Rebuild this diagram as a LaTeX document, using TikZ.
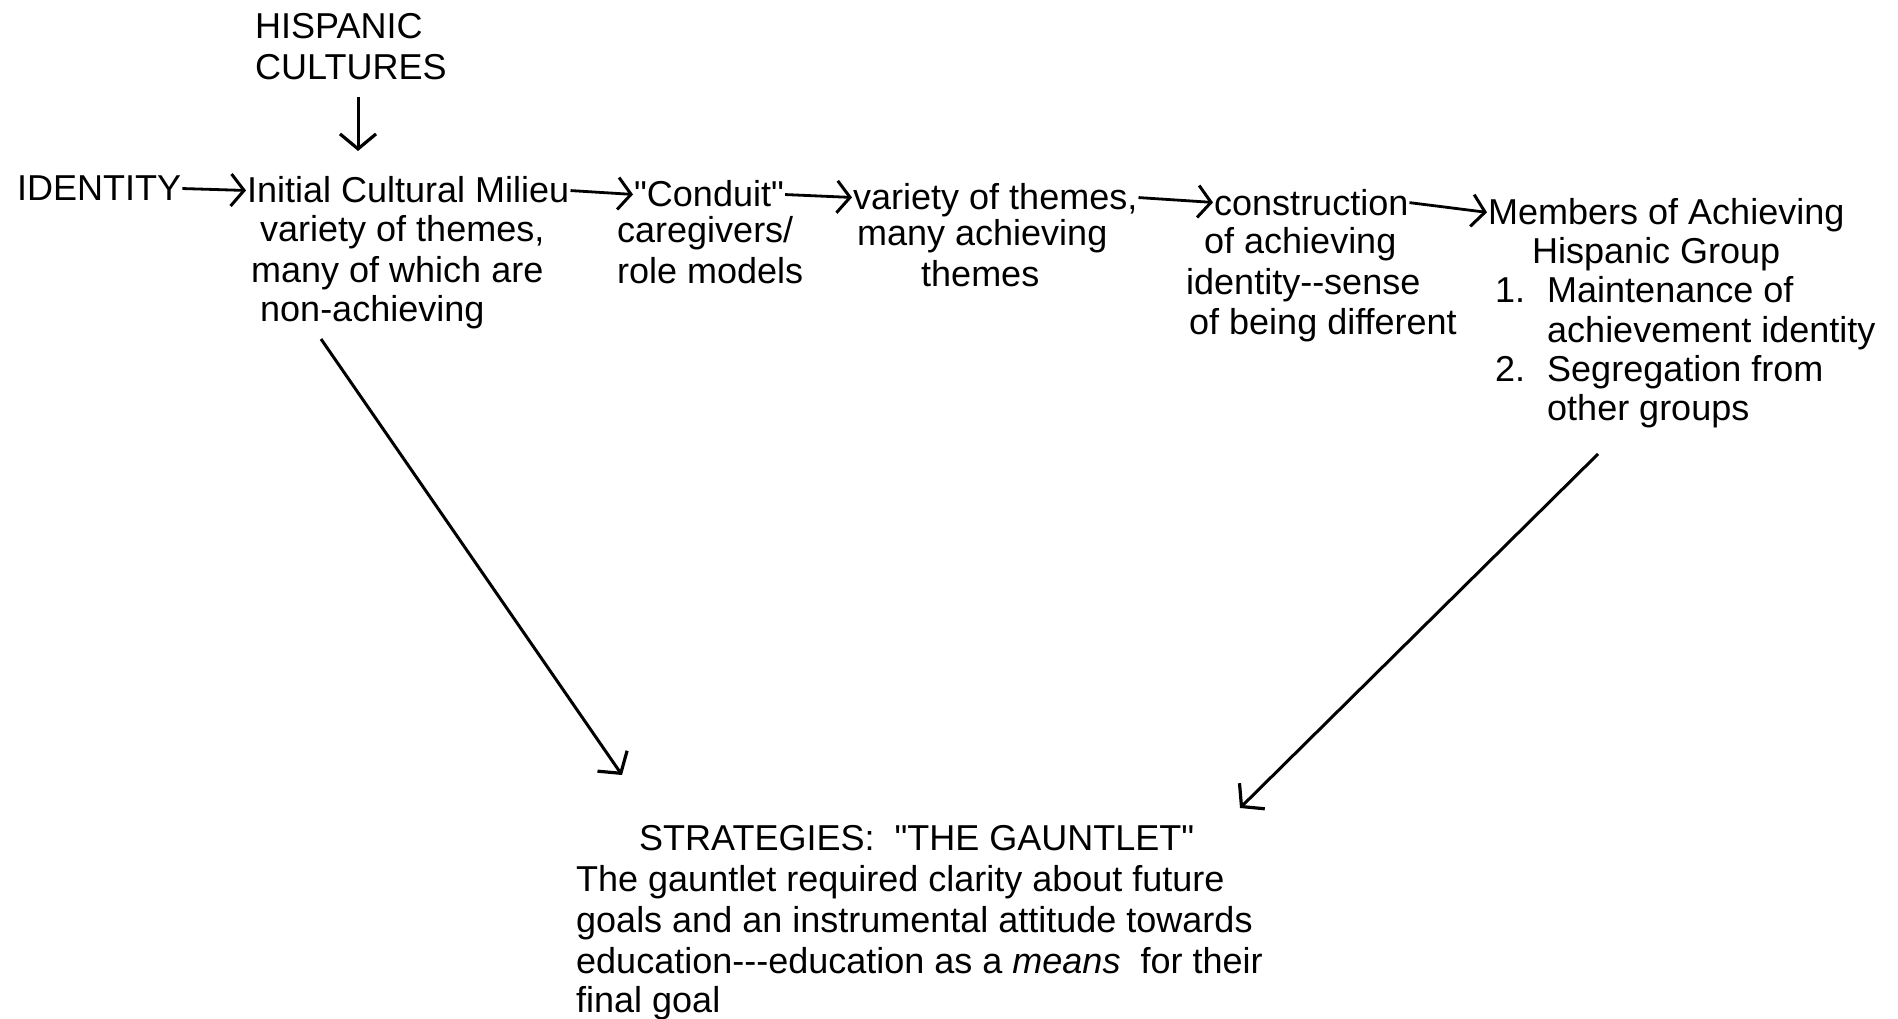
\documentclass[tikz,border=0pt]{standalone}
\usepackage{fontspec}
\setmainfont[Ligatures=TeXOff]{Liberation Sans}
\usetikzlibrary{arrows.meta,calc}
\begin{document}
\begin{tikzpicture}[x=1pt,y=-1pt,
 txt/.style={inner sep=0pt, anchor=base west, text height=25pt, text depth=0pt, font=\fontsize{36}{43}\selectfont},
 flow/.style={line width=2.8pt, -{Straight Barb[length=13pt,width=32pt,line width=3pt]}, shorten <=1pt, shorten >=1pt},
 diag/.style={line width=3pt, -{Straight Barb[length=15pt,width=36pt,line width=3.2pt]}},
]
\useasboundingbox (0,0) rectangle (1898,1019);

% top
\node[txt] (hisp1) at (255,39) {HISPANIC};
\node[txt] (hisp2) at (255,80) {CULTURES};
\coordinate (dtop) at (358,97);
\coordinate (dbot) at (358,151);
\draw[diag] (dtop) -- (dbot);

% main row
\node[txt] (identity) at (17,201) {IDENTITY};
\node[txt] (mil1) at (247,203) {Initial Cultural Milieu};
\node[txt] (mil2) at (260,242) {variety of themes,};
\node[txt] (mil3) at (251,282) {many of which are};
\node[txt] (mil4) at (260,321) {non-achieving};

\node[txt] (con1) at (634,207) {"Conduit"};
\node[txt] (con2) at (617,243) {caregivers/};
\node[txt] (con3) at (617,283) {role models};

\node[txt] (the1) at (853,210) {variety of themes,};
\node[txt] (the2) at (857,245) {many achieving};
\node[txt] (the3) at (921,286) {themes};

\node[txt] (cst1) at (1214,215) {construction};
\node[txt] (cst2) at (1204,254) {of achieving};
\node[txt] (cst3) at (1186,294) {identity-{}-sense};
\node[txt] (cst4) at (1189,334) {of being different};

\node[txt] (mem1) at (1488,225) {Members of Achieving};
\node[txt] (mem2) at (1532,263) {Hispanic Group};
\node[txt] (num1) at (1495,302) {1.};
\node[txt] (mem3) at (1547,302) {Maintenance of};
\node[txt] (mem4) at (1547,342) {achievement identity};
\node[txt] (num2) at (1495,381) {2.};
\node[txt] (mem5) at (1547,381) {Segregation from};
\node[txt] (mem6) at (1547,420) {other groups};

\draw[flow] (identity.east) -- (mil1.west);
\draw[flow] (mil1.east) -- (con1.west);
\draw[flow] (con1.east) -- (the1.west);
\draw[flow] (the1.east) -- (cst1.west);
\draw[flow] (cst1.east) -- (mem1.west);

% bottom
\node[txt] (strat) at (639,850) {STRATEGIES:\ \ "THE GAUNTLET"};
\node[txt] (g1) at (576,891) {The gauntlet required clarity about future};
\node[txt] (g2) at (576,932) {goals and an instrumental attitude towards};
\node[txt] (g3) at (576,973) {education-{}-{}-education as a \textit{means}\ \ for their};
\node[txt] (g4) at (576,1012) {final goal};

\coordinate (lstart) at (321,339);
\coordinate (lend) at (622,775);
\draw[diag] (lstart) -- (lend);
\coordinate (rstart) at (1598,454);
\coordinate (rend) at (1240,808);
\draw[diag] (rstart) -- (rend);
\end{tikzpicture}
\end{document}
